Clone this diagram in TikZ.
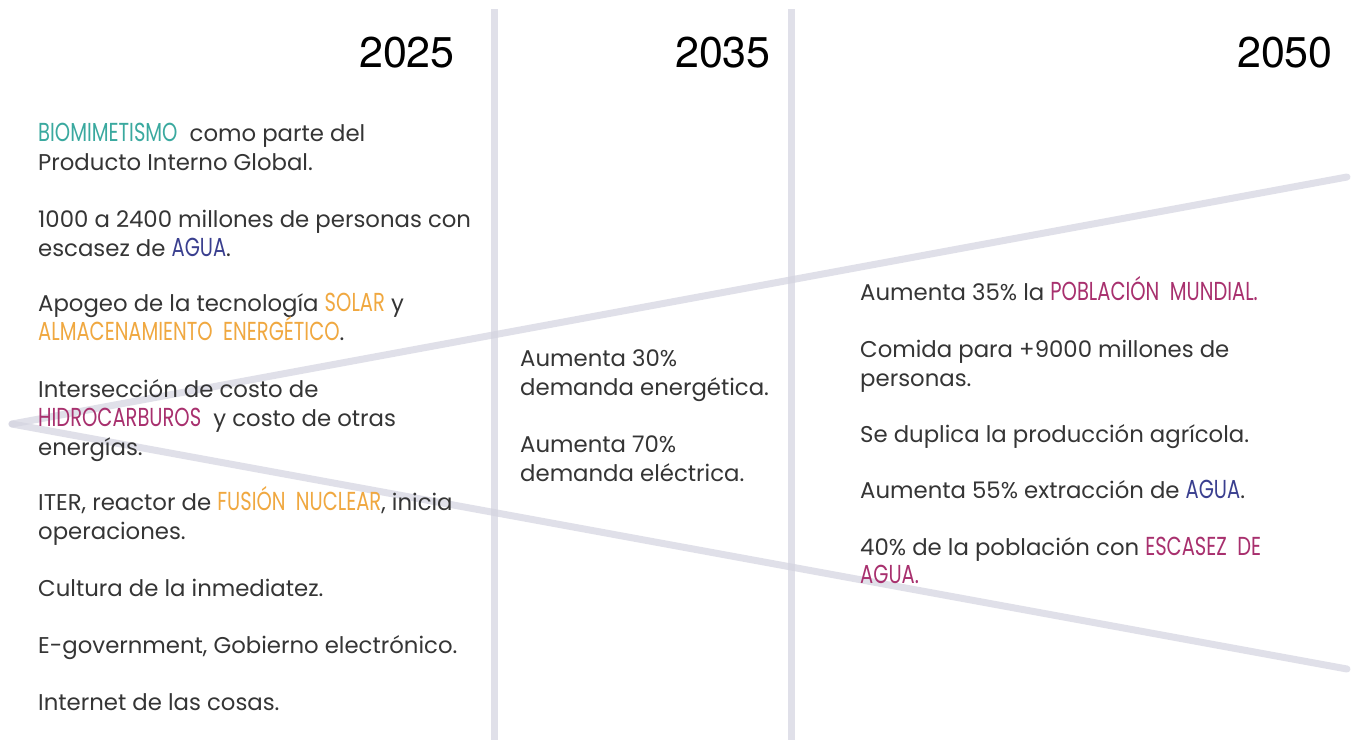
\documentclass[tikz,border=0pt]{standalone}
\usepackage{fontspec}
\setmainfont{Poppins}
\newfontfamily\hand[FakeStretch=0.75]{Poppins}
\newfontfamily\yearfont{TeX Gyre Heros}
\definecolor{txtgray}{HTML}{353535}
\definecolor{teal}{HTML}{3AA99F}
\definecolor{aguablue}{HTML}{3A3F8F}
\definecolor{solarorange}{HTML}{F0A840}
\definecolor{magenta}{HTML}{A8306E}
\definecolor{rulegray}{HTML}{E0E0E9}
\definecolor{streak}{HTML}{D4D4E0}
\newcommand{\kw}[2]{{\hand\fontsize{26}{28}\selectfont\color{#1}#2}}
\tikzset{
  txt/.style={anchor=base west, inner sep=0pt, text=txtgray, font=\fontsize{22.8}{26}\selectfont},
  year/.style={anchor=base east, inner sep=0pt, text=black, font=\yearfont\fontsize{43}{48}\selectfont},
  divider/.style={draw=rulegray, line width=7pt},
  diag/.style={draw=streak, line width=7pt, line cap=round, opacity=0.7}
}
\begin{document}
\begin{tikzpicture}[x=1pt,y=-1pt]
\useasboundingbox[fill=white] (0,0) rectangle (1353,740);
% dividers
\coordinate (v1t) at (494,9); \coordinate (v1b) at (494,740);
\coordinate (v2t) at (791,9); \coordinate (v2b) at (791,740);
\draw[divider] (v1t) -- (v1b);
\draw[divider] (v2t) -- (v2b);
% diagonals
\coordinate (dl) at (12,424);
\coordinate (da) at (1347,669);
\coordinate (db) at (1347,177);
\draw[diag] (dl) -- (da);
\draw[diag] (dl) -- (db);
% years
\node[year] (y1) at (455,67) {2025};
\node[year] (y2) at (771,67) {2035};
\node[year] (y3) at (1333,67) {2050};
% left column
\node[txt] (a1) at (38,141) {\kw{teal}{BIOMIMETISMO}\ \ como parte del};
\node[txt] (a2) at (38,170) {Producto Interno Global.};
\node[txt] (b1) at (38,227) {1000 a 2400 millones de personas con};
\node[txt] (b2) at (38,256) {escasez de \kw{aguablue}{AGUA}.};
\node[txt] (c1) at (38,311) {Apogeo de la tecnología \kw{solarorange}{SOLAR} y};
\node[txt] (c2) at (38,340) {\kw{solarorange}{ALMACENAMIENTO\ \ ENERGÉTICO}.};
\node[txt] (d1) at (38,397) {Intersección de costo de};
\node[txt] (d2) at (38,426) {\kw{magenta}{HIDROCARBUROS}\ \ y costo de otras};
\node[txt] (d3) at (38,455) {energías.};
\node[txt] (e1) at (38,510) {ITER, reactor de \kw{solarorange}{FUSIÓN\ \ NUCLEAR}, inicia};
\node[txt] (e2) at (38,539) {operaciones.};
\node[txt] (f1) at (38,596) {Cultura de la inmediatez.};
\node[txt] (g1) at (38,653) {E-government, Gobierno electrónico.};
\node[txt] (h1) at (38,710) {Internet de las cosas.};
% middle column
\node[txt] (m1) at (520,366) {Aumenta 30\%};
\node[txt] (m2) at (520,395) {demanda energética.};
\node[txt] (m3) at (520,452) {Aumenta 70\%};
\node[txt] (m4) at (520,481) {demanda eléctrica.};
% right column
\node[txt] (r1) at (860,300) {Aumenta 35\% la \kw{magenta}{POBLACIÓN\ \ MUNDIAL.}};
\node[txt] (r2) at (860,357) {Comida para +9000 millones de};
\node[txt] (r3) at (860,386) {personas.};
\node[txt] (r4) at (860,442) {Se duplica la producción agrícola.};
\node[txt] (r5) at (860,498) {Aumenta 55\% extracción de \kw{aguablue}{AGUA}.};
\node[txt] (r6) at (860,555) {40\% de la población con \kw{magenta}{ESCASEZ\ \ DE}};
\node[txt] (r7) at (860,583) {\kw{magenta}{AGUA.}};
\end{tikzpicture}
\end{document}
